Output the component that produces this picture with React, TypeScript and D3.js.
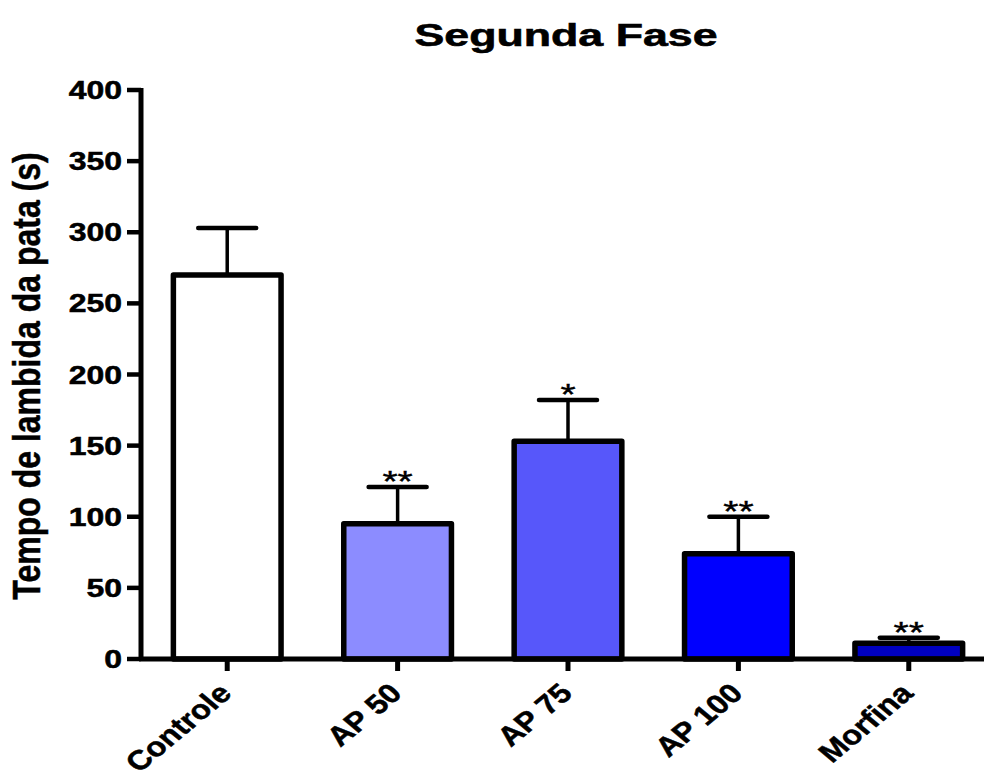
import * as d3 from "d3";

const groups = ["Controle", "AP 50", "AP 75", "AP 100", "Morfina"];
const means = [270, 95, 153, 74, 11];
const sems = [33, 26, 29, 26, 4];
const stars = ["", "**", "*", "**", "**"];
const fills = ["#ffffff", "#8c8cff", "#5757fa", "#0000ff", "#0000c0"];
const yTicks = [0, 50, 100, 150, 200, 250, 300, 350, 400];

const width = 984;
const height = 776;
// the original image is a bit stretched sideways, text too
const stretch = 1.3;

export default function App() {
  const x = d3
    .scaleBand<string>()
    .domain(groups)
    .range([141, 995])
    .paddingInner(0.368)
    .paddingOuter(0.19);
  const y = d3.scaleLinear().domain([0, 400]).range([659, 90]);
  const bw = x.bandwidth();
  const capW = 58;

  return (
    <svg
      width={width}
      height={height}
      style={{ position: "absolute", left: 0, top: 0, background: "#fff" }}
      fontFamily="'Liberation Sans', Arial, sans-serif"
    >
      {/* title */}
      <text
        x={566}
        y={46}
        textAnchor="middle"
        fontSize={32}
        fontWeight="bold"
        stroke="#000"
        strokeWidth={0.6}
        textLength={303}
        lengthAdjust="spacingAndGlyphs"
      >
        Segunda Fase
      </text>

      {/* bars */}
      {groups.map((g, i) => {
        const cx = (x(g) || 0) + bw / 2;
        const top = y(means[i]);
        const errTop = y(means[i] + sems[i]);
        return (
          <g key={g}>
            <line x1={cx} x2={cx} y1={top} y2={errTop} stroke="#000" strokeWidth={3.5} />
            <line
              x1={cx - capW / 2}
              x2={cx + capW / 2}
              y1={errTop}
              y2={errTop}
              stroke="#000"
              strokeWidth={4.5}
              strokeLinecap="round"
            />
            <rect
              x={x(g)}
              y={top}
              width={bw}
              height={y(0) - top}
              fill={fills[i]}
              stroke="#000"
              strokeWidth={5.5}
              strokeLinejoin="round"
            />
            {stars[i] && (
              <g transform={`translate(${cx}, ${errTop + 4}) scale(${stretch}, 1)`}>
                <text textAnchor="middle" fontSize={30} stroke="#000" strokeWidth={0.4}>
                  {stars[i]}
                </text>
              </g>
            )}
          </g>
        );
      })}

      {/* y axis */}
      <line x1={141} x2={141} y1={88} y2={661} stroke="#000" strokeWidth={5} />
      {yTicks.map((t) => (
        <g key={t} transform={`translate(0, ${y(t)})`}>
          <line x1={127} x2={141} stroke="#000" strokeWidth={4.5} />
          <g transform={`translate(122, 9) scale(1.28, 1)`}>
            <text textAnchor="end" fontSize={25} fontWeight="bold" stroke="#000" strokeWidth={0.5}>
              {t}
            </text>
          </g>
        </g>
      ))}
      <g transform={`translate(40, 376) scale(1.22, 1) rotate(-90)`}>
        <text
          textAnchor="middle"
          fontSize={32}
          fontWeight="bold"
          stroke="#000"
          strokeWidth={0.4}
        >
          Tempo de lambida da pata (s)
        </text>
      </g>

      {/* x axis */}
      <line x1={139} x2={984} y1={659} y2={659} stroke="#000" strokeWidth={5} />
      {groups.map((g) => {
        const cx = (x(g) || 0) + bw / 2;
        return (
          <g key={g} transform={`translate(${cx}, 0)`}>
            <line y1={659} y2={671} stroke="#000" strokeWidth={5} />
            <g transform={`translate(6, 695) scale(1.2, 1) rotate(-45)`}>
              <text
                textAnchor="end"
                fontSize={27}
                fontWeight="bold"
                stroke="#000"
                strokeWidth={0.5}
              >
                {g}
              </text>
            </g>
          </g>
        );
      })}
    </svg>
  );
}
